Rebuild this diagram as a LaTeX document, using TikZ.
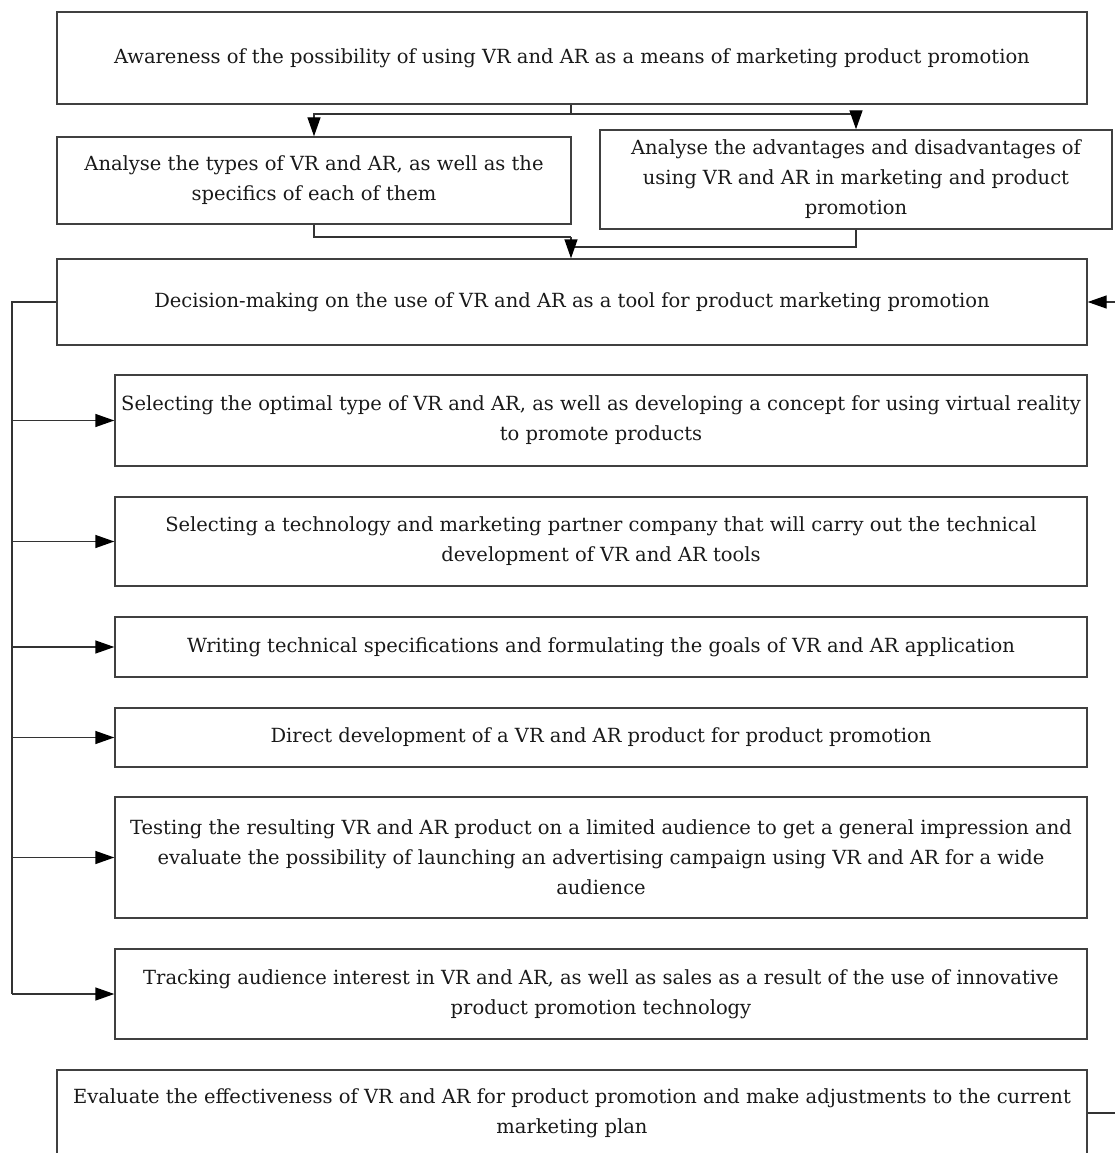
\documentclass[tikz,border=0pt]{standalone}
\usepackage{fontspec}
\setmainfont{DejaVu Serif}
\usetikzlibrary{arrows.meta,calc}
\begin{document}
\begin{tikzpicture}[x=1pt,y=-1pt,
  box/.style={draw=black!75,line width=1.4pt,rectangle,inner sep=0pt,align=center,
    font=\fontsize{19.5}{30}\selectfont,text=black!90},
  conn/.style={draw=black!80,line width=1.4pt},
  arr/.style={conn,-{Triangle[length=19pt,width=13pt,fill=black,color=black]}}]
\useasboundingbox (0,0) rectangle (1115,1153);
\node[box,minimum width=1030pt,minimum height=92pt] (b1) at (572,58) {Awareness of the possibility of using VR and AR as a means of marketing product promotion};
\node[box,minimum width=514pt,minimum height=87pt] (b2) at (314,180.5) {Analyse the types of VR and AR, as well as the\\specifics of each of them};
\node[box,minimum width=512pt,minimum height=99pt] (b3) at (856,179.5) {Analyse the advantages and disadvantages of\\using VR and AR in marketing and product\\promotion};
\node[box,minimum width=1030pt,minimum height=86pt] (b4) at (572,302) {Decision-making on the use of VR and AR as a tool for product marketing promotion};
\node[box,minimum width=972pt,minimum height=91pt] (b5) at (601,420.5) {Selecting the optimal type of VR and AR, as well as developing a concept for using virtual reality\\to promote products};
\node[box,minimum width=972pt,minimum height=89pt] (b6) at (601,541.5) {Selecting a technology and marketing partner company that will carry out the technical\\development of VR and AR tools};
\node[box,minimum width=972pt,minimum height=60pt] (b7) at (601,647) {Writing technical specifications and formulating the goals of VR and AR application};
\node[box,minimum width=972pt,minimum height=59pt] (b8) at (601,737.5) {Direct development of a VR and AR product for product promotion};
\node[box,minimum width=972pt,minimum height=121pt] (b9) at (601,857.5) {Testing the resulting VR and AR product on a limited audience to get a general impression and\\evaluate the possibility of launching an advertising campaign using VR and AR for a wide\\audience};
\node[box,minimum width=972pt,minimum height=90pt] (b10) at (601,994) {Tracking audience interest in VR and AR, as well as sales as a result of the use of innovative\\product promotion technology};
\node[box,minimum width=1030pt,minimum height=86pt] (b11) at (572,1113) {Evaluate the effectiveness of VR and AR for product promotion and make adjustments to the current\\marketing plan};
% top split
\coordinate (j1) at (571,114);
\draw[conn] (b1.south -| j1) -- (j1);
\draw[arr] (j1) -| (b2.north);
\draw[arr] (j1) -| (b3.north);
% merge
\coordinate (j2) at (571,237);
\coordinate (j3) at (571,247);
\draw[conn] (b2.south) |- (j2);
\draw[conn] (b3.south) |- (j3);
\draw[arr] (j2) -- (j2 |- b4.north);
% left bus
\coordinate (L) at (12,300);
\draw[conn] (b4.west) -- (L |- b4.west) -- (L |- b10.west);
\foreach \n in {b5,b6,b7,b8,b9,b10}{
  \draw[arr] (L |- \n.west) -- (\n.west);
}
% feedback loop
\coordinate (R) at (1135,300);
\draw[arr] (b11.east) -- (R |- b11.east) -- (R |- b4.east) -- (b4.east);
\end{tikzpicture}
\end{document}
